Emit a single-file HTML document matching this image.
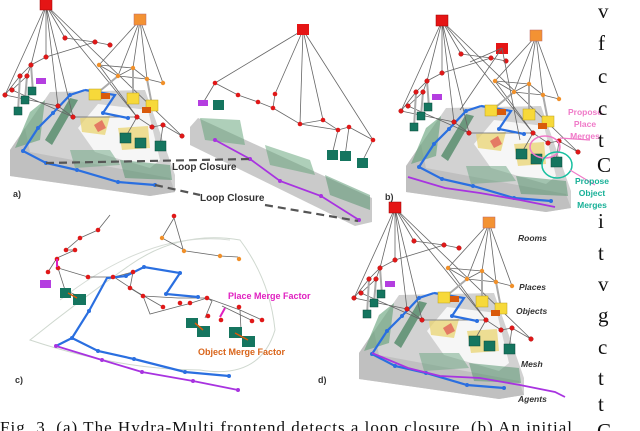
<!DOCTYPE html>
<html><head><meta charset="utf-8"><style>
html,body{margin:0;padding:0;background:#fff;width:640px;height:431px;overflow:hidden}
svg{display:block}
.l{font-family:"Liberation Sans",sans-serif;font-weight:bold}
</style></head><body>
<svg width="640" height="431" viewBox="0 0 640 431" xmlns="http://www.w3.org/2000/svg">
<defs>
<g id="scene">
  <polygon points="10,150 50,92 145,90 175,175 175,192 150,196 10,176" fill="#d2d2d2"/>
  <polygon points="10,150 25,128 30,152 170,178 175,192 150,196 10,176" fill="#c0c0c0"/>
  <polygon points="78,128 98,104 148,110 160,160 150,168 95,152" fill="#f6f6f6"/>
  <polygon points="15,148 30,112 45,100 40,140" fill="#5f9e75" opacity="0.6"/>
  <polygon points="45,140 70,98 78,100 52,145" fill="#3f7f59" opacity="0.7"/>
  <polygon points="70,150 110,150 120,165 75,168" fill="#6aa37f" opacity="0.5"/>
  <polygon points="120,160 170,165 172,180 125,178" fill="#4e9067" opacity="0.5"/>
  <polygon points="80,118 110,116 105,135 82,132" fill="#e9d36a" opacity="0.7"/>
  <polygon points="118,128 148,126 150,148 122,150" fill="#e9d36a" opacity="0.7"/>
  <polygon points="94,125 102,120 106,128 98,132" fill="#e05050" opacity="0.7"/>
  <g stroke="#666" stroke-width="0.8" fill="none">
    <path d="M46,5 L65,38 M46,5 L46,57 M46,5 L31,65 M46,5 L5,95 M46,5 L73,117 M46,5 L58,106 M46,5 L137,117 M46,5 L182,136"/>
    <path d="M140,20 L99,65 M140,20 L118,76 M140,20 L147,79 M140,20 L163,83 M140,20 L133,68"/>
    <path d="M65,38 L95,42 L110,45 M95,42 L46,57 L31,65 L20,76 L5,95 M31,65 L27,76 L12,90 M99,65 L133,68 L147,79 L163,83 M99,65 L118,76 L147,79 M133,68 L118,76"/>
    <path d="M5,95 L58,106 L73,117 L137,117 L152,127 L163,125 L182,136 M12,90 L73,117 M99,65 L137,117 M163,125 L160,146 M137,117 L125,138"/>
  </g>
  <g stroke="#aaa" stroke-width="2">
    <path d="M31,65 L33,92 M27,76 L25,100 M20,76 L18,112 M118,76 L95,95 M133,98 L133,68 M152,105 L147,79"/>
  </g>
  <g stroke="#2a6fe0" stroke-width="2.2" fill="none">
    <path d="M85,90 L70,95 L53,113 L38,128 L23,151 L46,163 L77,170 L118,182 L155,185"/>
    <path d="M85,90 L115,95 L103,113 L128,118"/>
  </g>
  <g fill="#2a6fe0"><circle cx="70" cy="95" r="2"/><circle cx="53" cy="113" r="2"/><circle cx="38" cy="128" r="2"/><circle cx="23" cy="151" r="2"/><circle cx="46" cy="163" r="2"/><circle cx="77" cy="170" r="2"/><circle cx="118" cy="182" r="2"/><circle cx="155" cy="185" r="2"/><circle cx="103" cy="113" r="2"/><circle cx="128" cy="118" r="2"/></g>
  <g fill="#e01818" stroke="#a00" stroke-width="0.4">
    <circle cx="65" cy="38" r="2.3"/><circle cx="95" cy="42" r="2.3"/><circle cx="110" cy="45" r="2.3"/><circle cx="46" cy="57" r="2.3"/><circle cx="31" cy="65" r="2.3"/><circle cx="20" cy="76" r="2.3"/><circle cx="27" cy="76" r="2.3"/><circle cx="5" cy="95" r="2.3"/><circle cx="12" cy="90" r="2.3"/><circle cx="58" cy="106" r="2.3"/><circle cx="73" cy="117" r="2.3"/><circle cx="137" cy="117" r="2.3"/><circle cx="152" cy="127" r="2.3"/><circle cx="163" cy="125" r="2.3"/><circle cx="182" cy="136" r="2.3"/>
  </g>
  <g fill="#f0902a"><circle cx="99" cy="65" r="2.2"/><circle cx="133" cy="68" r="2.2"/><circle cx="147" cy="79" r="2.2"/><circle cx="118" cy="76" r="2.2"/><circle cx="163" cy="83" r="2.2"/></g>
  <rect x="40" y="-1" width="12" height="11" fill="#e51515" stroke="#900" stroke-width="0.5"/>
  <rect x="134" y="14" width="12" height="11" fill="#f39233" stroke="#b66" stroke-width="0.5"/>
  <rect x="36" y="78" width="10" height="6" fill="#b43ee0"/>
  <g fill="#15755f" stroke="#0a4a3a" stroke-width="0.5">
    <rect x="28" y="87" width="8" height="8"/><rect x="21" y="96" width="8" height="8"/><rect x="14" y="107" width="8" height="8"/><rect x="120" y="133" width="11" height="10"/><rect x="135" y="138" width="11" height="10"/><rect x="155" y="141" width="11" height="10"/>
  </g>
  <g fill="#f7d93a" stroke="#b9a020" stroke-width="0.5"><rect x="89" y="89" width="12" height="11"/><rect x="127" y="93" width="12" height="11"/><rect x="146" y="100" width="12" height="11"/></g>
  <g fill="#d95a0b"><rect x="101" y="93" width="9" height="6"/><rect x="142" y="107" width="9" height="6"/></g>
</g>
</defs>

<use href="#scene"/>
<use href="#scene" transform="translate(349,203)"/>
<path d="M372,353 L408,368 L440,376 L480,378 L520,385 L555,392 L565,397" stroke="#a833e0" stroke-width="1.8" fill="none"/>
<use href="#scene" transform="translate(396,16)"/>
<rect x="496" y="43" width="12" height="11" fill="#e51515"/>
<path d="M502,48 L460,110 M502,48 L470,62 M502,48 L520,140" stroke="#666" stroke-width="0.8"/>
<path d="M408,177 L445,188 L480,193 L520,200 L555,207" stroke="#a833e0" stroke-width="1.8" fill="none"/>
<ellipse cx="545" cy="147" rx="15" ry="11" fill="none" stroke="#f07ac8" stroke-width="1.5"/>
<ellipse cx="557" cy="165" rx="15" ry="13" fill="none" stroke="#17c0a0" stroke-width="1.5"/>
<path d="M560,138 L590,140 M570,170 L595,185" stroke-width="1.2" stroke="#f07ac8" fill="none"/>
<text class="l" x="585" y="115" fill="#f07ac8" font-size="8.5" text-anchor="middle">Propose</text>
<text class="l" x="585" y="127" fill="#f07ac8" font-size="8.5" text-anchor="middle">Place</text>
<text class="l" x="585" y="139" fill="#f07ac8" font-size="8.5" text-anchor="middle">Merges</text>
<text class="l" x="592" y="184" fill="#17b097" font-size="8.5" text-anchor="middle">Propose</text>
<text class="l" x="592" y="196" fill="#17b097" font-size="8.5" text-anchor="middle">Object</text>
<text class="l" x="592" y="208" fill="#17b097" font-size="8.5" text-anchor="middle">Merges</text>

<polygon points="190,127 198,118 372,198 372,222 355,226 190,145" fill="#cacaca"/>
<polygon points="200,118 240,120 245,145 205,140" fill="#5d9f73" opacity="0.5"/>
<polygon points="265,145 310,160 315,175 270,165" fill="#5d9f73" opacity="0.5"/>
<polygon points="325,175 370,195 370,210 330,195" fill="#4e9067" opacity="0.5"/>
<g stroke="#666" stroke-width="0.8" fill="none">
<path d="M303,30 L215,83 M303,30 L275,94 M303,30 L300,124 M303,30 L323,120 M303,30 L373,140 M215,83 L238,95 L258,102 L273,108 L275,94 M273,108 L300,124 L323,120 L338,130 L349,127 L373,140 M215,83 L203,103 M300,124 L338,130 M338,130 L332,155 M349,127 L345,156 M373,140 L362,162"/>
</g>
<g fill="#e01818"><circle cx="215" cy="83" r="2.3"/><circle cx="238" cy="95" r="2.3"/><circle cx="258" cy="102" r="2.3"/><circle cx="275" cy="94" r="2.3"/><circle cx="273" cy="108" r="2.3"/><circle cx="300" cy="124" r="2.3"/><circle cx="323" cy="120" r="2.3"/><circle cx="338" cy="130" r="2.3"/><circle cx="349" cy="127" r="2.3"/><circle cx="373" cy="140" r="2.3"/></g>
<rect x="297" y="24" width="12" height="11" fill="#e51515"/>
<rect x="198" y="100" width="10" height="6" fill="#b43ee0"/>
<g fill="#15755f"><rect x="213" y="100" width="11" height="10"/><rect x="327" y="150" width="11" height="10"/><rect x="340" y="151" width="11" height="10"/><rect x="357" y="158" width="11" height="10"/></g>
<path d="M215,140 L250,159 L280,181 L321,196 L359,220" stroke="#a833e0" stroke-width="1.8" fill="none"/>
<g fill="#a833e0"><circle cx="215" cy="140" r="2"/><circle cx="250" cy="159" r="2"/><circle cx="280" cy="181" r="2"/><circle cx="321" cy="196" r="2"/><circle cx="359" cy="220" r="2"/></g>
<g stroke="#555" stroke-width="2.2" stroke-dasharray="8,5" fill="none">
<path d="M46,163 L250,159"/>
<path d="M155,185 L200,195 M265,205 L358,221"/>
</g>
<text class="l" x="172" y="170" font-size="10" fill="#333">Loop Closure</text>
<text class="l" x="200" y="201" font-size="10" fill="#333">Loop Closure</text>

<path d="M30,340 Q80,300 130,265 Q180,230 240,240 Q270,280 275,330 Q260,380 200,370 Q120,370 30,340Z" fill="none" stroke="#cfd8cf" stroke-width="1"/>
<path d="M60,300 Q150,230 230,240" fill="none" stroke="#d6dcd6"/>
<g stroke="#666" stroke-width="0.8" fill="none">
<path d="M110,215 L98,230 L80,238 L66,250 L75,250 L57,258 L48,272 M57,258 L58,268 L88,277 L114,277 L133,272 M58,268 L65,290 L80,297 M133,272 L130,288 L143,296 L150,314 L180,306 L188,304 L207,298 L240,310 L262,320 M174,218 L162,238 L186,251 L220,256 L238,257 M174,218 L183,249 M207,298 L212,301 L205,318 M240,310 L241,330 M222,306 L253,321"/>
<path d="M114,277 L143,296 L178,298 L207,298 M130,288 L163,307"/>
</g>
<g stroke="#2a6fe0" stroke-width="2.2" fill="none">
<path d="M72,338 L89,311 L107,278 L126,276 L144,267 L180,273 L166,294 L198,297"/>
<path d="M72,338 L98,351 L134,359 L185,372 L229,376"/>
<path d="M72,338 L56,346"/>
</g>
<path d="M56,346 L102,360 L142,372 L193,381 L238,390" stroke="#a833e0" stroke-width="1.8" fill="none"/>
<g fill="#a833e0"><circle cx="56" cy="346" r="2"/><circle cx="102" cy="360" r="2"/><circle cx="142" cy="372" r="2"/><circle cx="193" cy="381" r="2"/><circle cx="238" cy="390" r="2"/></g>
<g fill="#e01818"><circle cx="98" cy="230" r="2.3"/><circle cx="80" cy="238" r="2.3"/><circle cx="66" cy="250" r="2.3"/><circle cx="75" cy="250" r="2.3"/><circle cx="57" cy="259" r="2.3"/><circle cx="58" cy="268" r="2.3"/><circle cx="48" cy="272" r="2.3"/><circle cx="88" cy="277" r="2.3"/><circle cx="113" cy="277" r="2.3"/><circle cx="133" cy="272" r="2.3"/><circle cx="130" cy="288" r="2.3"/><circle cx="143" cy="296" r="2.3"/><circle cx="163" cy="307" r="2.3"/><circle cx="180" cy="303" r="2.3"/><circle cx="190" cy="303" r="2.3"/><circle cx="207" cy="298" r="2.3"/><circle cx="208" cy="316" r="2.3"/><circle cx="221" cy="320" r="2.3"/><circle cx="239" cy="307" r="2.3"/><circle cx="252" cy="321" r="2.3"/><circle cx="262" cy="320" r="2.3"/><circle cx="174" cy="216" r="2.3"/></g>
<g fill="#f0902a"><circle cx="162" cy="238" r="2.2"/><circle cx="184" cy="251" r="2.2"/><circle cx="220" cy="256" r="2.2"/><circle cx="239" cy="259" r="2.2"/></g>
<rect x="40" y="280" width="11" height="8" fill="#b43ee0"/>
<g fill="#15755f"><rect x="60" y="288" width="11" height="10"/><rect x="73" y="294" width="13" height="11"/><rect x="186" y="318" width="12" height="10"/><rect x="197" y="326" width="13" height="11"/><rect x="229" y="327" width="13" height="11"/><rect x="242" y="336" width="13" height="11"/></g>
<path d="M68,293 L77,298 M195,323 L203,330 M235,333 L248,340" stroke="#d95a0b" stroke-width="1.5"/>
<path d="M225,308 L220,317 M57,259 L57,267" stroke="#e020c0" stroke-width="2"/>
<g fill="#2a6fe0"><circle cx="72" cy="338" r="2"/><circle cx="89" cy="311" r="2"/><circle cx="98" cy="351" r="2"/><circle cx="134" cy="359" r="2"/><circle cx="185" cy="372" r="2"/><circle cx="229" cy="376" r="2"/><circle cx="144" cy="267" r="2"/><circle cx="180" cy="273" r="2"/><circle cx="166" cy="294" r="2"/><circle cx="198" cy="297" r="2"/><circle cx="126" cy="276" r="2"/></g>
<text class="l" x="228" y="299" font-size="9" fill="#e020c0">Place Merge Factor</text>
<text class="l" x="198" y="355" font-size="9" fill="#d9641a">Object Merge Factor</text>

<text class="l" x="13" y="197" font-size="9" fill="#333">a)</text>
<text class="l" x="385" y="200" font-size="9" fill="#333">b)</text>
<text class="l" x="15" y="383" font-size="9" fill="#333">c)</text>
<text class="l" x="318" y="383" font-size="9" fill="#333">d)</text>
<g class="l" font-size="8.5" font-style="italic" fill="#333">
<text x="518" y="241">Rooms</text><text x="519" y="290">Places</text><text x="516" y="314">Objects</text><text x="521" y="367">Mesh</text><text x="518" y="402">Agents</text>
</g>
<g font-family="Liberation Serif,serif" font-size="21" fill="#111">
<text x="598" y="18">v</text><text x="598" y="50">f</text><text x="598" y="83">c</text><text x="598" y="115">c</text><text x="598" y="147">t</text><text x="597" y="172">C</text>
<text x="598" y="228">i</text><text x="598" y="260">t</text><text x="598" y="291">v</text><text x="598" y="322">g</text><text x="598" y="354">c</text><text x="598" y="385">t</text><text x="598" y="411">t</text><text x="597" y="438">C</text>
</g>
<text x="0" y="433" font-family="Liberation Serif,serif" font-size="17" fill="#111" textLength="572">Fig. 3.   (a) The Hydra-Multi frontend detects a loop closure. (b) An initial</text>
</svg>
</body></html>
